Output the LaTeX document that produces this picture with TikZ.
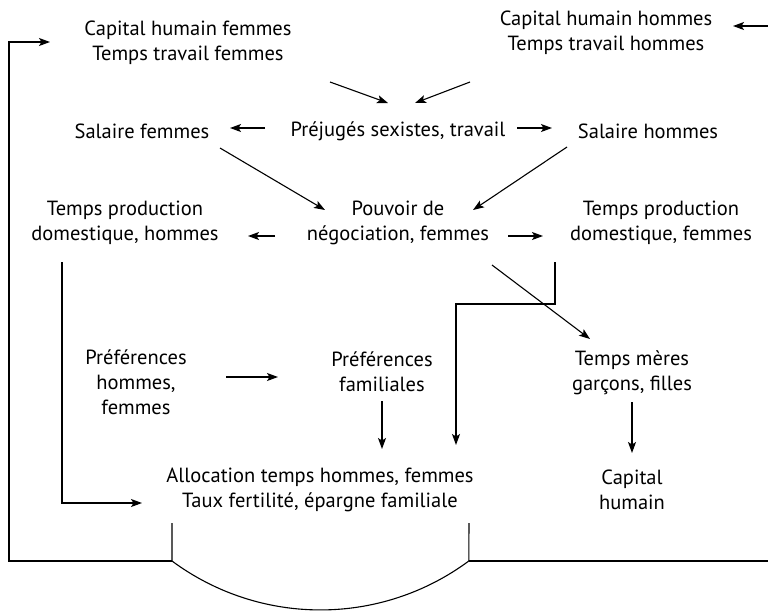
\documentclass[tikz,border=0pt]{standalone}
\usepackage{fontspec}
\setmainfont{PT Sans}
\usetikzlibrary{arrows.meta}
\begin{document}
\begin{tikzpicture}[x=1pt,y=-1pt,
  lbl/.style={align=center,inner sep=0pt,font=\fontsize{20.5}{25}\selectfont},
  arr/.style={-{Stealth[length=11pt,width=8pt,inset=2.5pt]},line width=1.1pt},
  ln/.style={line width=1.1pt}]
\useasboundingbox (0,0) rectangle (768,611);
\node[lbl] (capf) at (188,43) {Capital humain femmes\\Temps travail femmes};
\node[lbl] (caph) at (606,33) {Capital humain hommes\\Temps travail hommes};
\node[lbl] (prej) at (398,131) {Préjugés sexistes, travail};
\node[lbl] (salf) at (142,131) {Salaire femmes};
\node[lbl] (salh) at (648,131) {Salaire hommes};
\node[lbl] (pouv) at (398,223) {Pouvoir de\\négociation, femmes};
\node[lbl] (dmh) at (125,223) {Temps production\\domestique, hommes};
\node[lbl] (dmf) at (661,223) {Temps production\\domestique, femmes};
\node[lbl] (prefs) at (136,382) {Préférences\\hommes,\\femmes};
\node[lbl] (preff) at (382,372) {Préférences\\familiales};
\node[lbl] (tm) at (632,373) {Temps mères\\garçons, filles};
\node[lbl] (caphum) at (632,490) {Capital\\humain};
\node[lbl] (alloc) at (320,490) {Allocation temps hommes, femmes\\Taux fertilité, épargne familiale};
\coordinate (loopL) at (9,561);
\coordinate (loopLT) at (9,42);
\coordinate (loopR) at (768,561);
\coordinate (inR) at (768,26);
% top arrows
\draw[arr] ([shift={(142,39)}]capf.center) -- ([shift={(-10,-28)}]prej.center);
\draw[arr] ([shift={(-136,49)}]caph.center) -- ([shift={(17,-28)}]prej.center);
\draw[arr] ([shift={(-133,-3)}]prej.center) -- ([shift={(88,-3)}]salf.center);
\draw[arr] ([shift={(119,-3)}]prej.center) -- ([shift={(-96,-3)}]salh.center);
\draw[arr] ([shift={(78,17)}]salf.center) -- ([shift={(-73,-13)}]pouv.center);
\draw[arr] ([shift={(-81,16)}]salh.center) -- ([shift={(75,-13)}]pouv.center);
\draw[arr] ([shift={(-123,13)}]pouv.center) -- ([shift={(123,13)}]dmh.center);
\draw[arr] ([shift={(110,13)}]pouv.center) -- ([shift={(-118,13)}]dmf.center);
\draw[arr] ([shift={(94,42)}]pouv.center) -- ([shift={(-42,-34)}]tm.center);
\draw[arr] ([shift={(-106,39)}]dmf.center) -- ++(0,42) -- ++(-99,0) -- ([shift={(136,-45)}]alloc.center);
\draw[arr] ([shift={(-63,39)}]dmh.center) -- ++(0,241) -- ([shift={(-178,13)}]alloc.center);
\draw[arr] ([shift={(90,-5)}]prefs.center) -- ([shift={(-104,5)}]preff.center);
\draw[arr] ([shift={(0,29)}]preff.center) -- ([shift={(62,-41)}]alloc.center);
\draw[arr] ([shift={(0,29)}]tm.center) -- ([shift={(0,-37)}]caphum.center);
% bracket and loops
\draw[ln] ([shift={(-148,33)}]alloc.center) -- ([shift={(-148,71)}]alloc.center)
  arc[start angle=126.5, end angle=53.5, radius=249.5]
  -- ([shift={(149,33)}]alloc.center);
\draw[arr] ([shift={(-148,71)}]alloc.center) -- (loopL) -- (loopLT) -- ([shift={(-138,-1)}]capf.center);
\draw[ln] ([shift={(149,71)}]alloc.center) -- (loopR);
\draw[arr] (inR) -- ([shift={(127,-7)}]caph.center);
\end{tikzpicture}
\end{document}
